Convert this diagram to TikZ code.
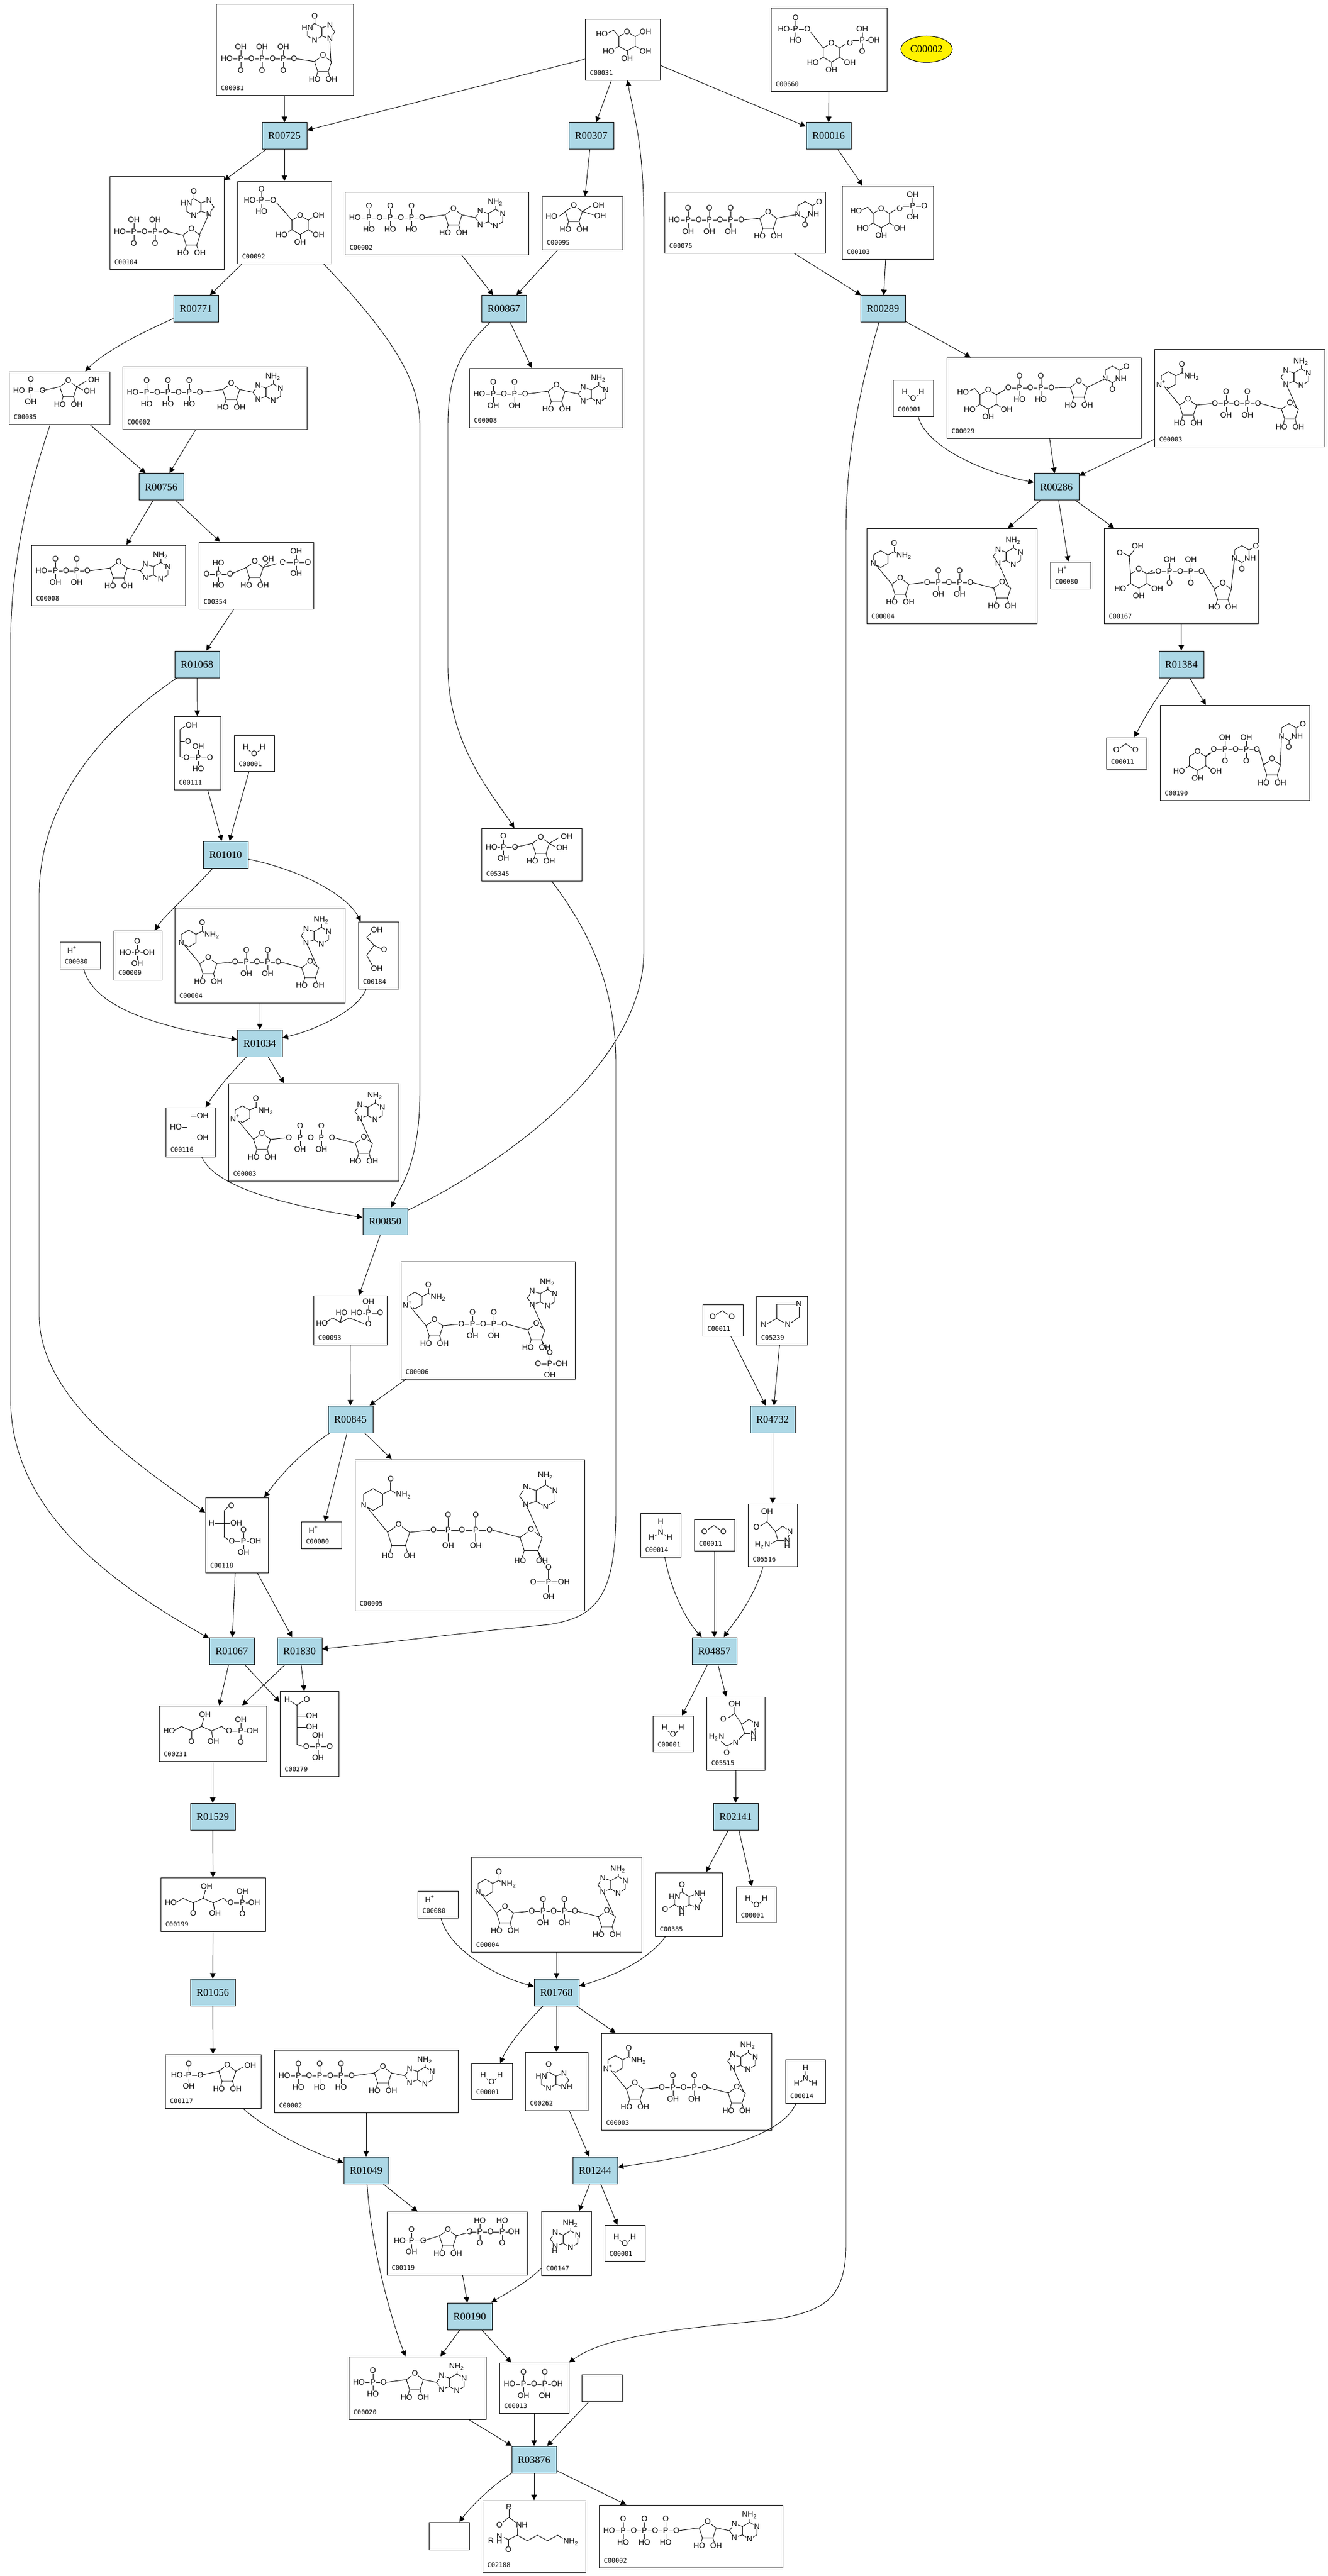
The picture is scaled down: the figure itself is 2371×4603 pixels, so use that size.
\documentclass[tikz,border=0pt]{standalone}
\usepackage{fontspec}
\setmainfont{Liberation Serif}
\newfontfamily\rxfont{Liberation Serif}
\newfontfamily\idfont{DejaVu Sans Mono}
\newfontfamily\atfont{Liberation Sans}
\usetikzlibrary{arrows.meta,calc,shapes.geometric}
\definecolor{rxblue}{HTML}{ADD8E6}
\newcounter{txc}
\tikzset{
  rxn/.style={draw, line width=0.3pt, fill=rxblue, minimum width=24pt, minimum height=14.4pt, inner sep=0pt, font=\rxfont\fontsize{5.5}{6}\selectfont},
  cpdbox/.style={draw, line width=0.28pt, inner sep=0pt},
  arr/.style={line width=0.28pt, -{Triangle[length=3pt,width=3pt]}},
  bd/.style={line width=0.28pt},
  atm/.style={font=\atfont\fontsize{4.2}{4.6}\selectfont, inner sep=0.3pt, fill=white},
  idl/.style={font=\idfont\fontsize{3.4}{4}\selectfont, inner sep=0pt, anchor=west},
}
\newcommand\Tx[3]{\stepcounter{txc}\node[atm] (tx\arabic{txc}) at (#1,#2) {#3};}
\newcommand\Bd[4]{\draw[bd] (#1,#2) -- (#3,#4);}
\newcommand\HX[3]{\draw[bd,shift={(#1,#2)}] (-90:#3)--(-30:#3)--(30:#3)--(90:#3)--(150:#3)--(210:#3)--cycle;}
\newcommand\PN[3]{\draw[bd,shift={(#1,#2)}] (-90:#3)--(-18:#3)--(54:#3)--(126:#3)--(198:#3)--cycle;}
\newcommand\RIB[2]{\PN{#1}{#2}{16}\Bd{#1-9.4}{#2+12.9}{#1-12}{#2+22}\Bd{#1+9.4}{#2+12.9}{#1+12}{#2+22}\Tx{#1}{#2-16}{O}\Tx{#1-15}{#2+27}{HO}\Tx{#1+15}{#2+27}{OH}}
\newcommand\PCH[5]{\draw[bd] ({#1+6},#2) -- ({#1+6+38*#3},#2);%
 \foreach \i in {1,...,#3}{\pgfmathsetmacro\px{#1+25+38*(\i-1)}\draw[bd] (\px,{#2-16}) -- (\px,{#2+16});\Tx{\px}{#2-21}{#4}\Tx{\px}{#2}{P}\Tx{\px}{#2+21}{#5}\Tx{\px+19}{#2}{O}}%
 \Tx{#1}{#2}{HO}}
\newcommand\PCO[5]{\draw[bd] (#1,#2) -- ({#1+39+38*(#3-1)},#2);%
 \foreach \i in {1,...,#3}{\pgfmathsetmacro\px{#1+20+38*(\i-1)}\draw[bd] (\px,{#2-16}) -- (\px,{#2+16});\Tx{\px}{#2-21}{#4}\Tx{\px}{#2}{P}\Tx{\px}{#2+21}{#5}\Tx{\px+19}{#2}{O}}%
 \Tx{#1}{#2}{O}}
\newcommand\PO[6]{\draw[bd] ({#1-17},#2) -- ({#1+17},#2) (#1,{#2-16}) -- (#1,{#2+16});\Tx{#1}{#2}{P}\Tx{#1}{#2-20}{#3}\Tx{#1}{#2+20}{#4}\Tx{#1-21}{#2}{#5}\Tx{#1+21}{#2}{#6}}
\newcommand\PUR[4]{\HX{#1}{#2}{15}\draw[bd,shift={(#1+23.3,#2)}] (144:12.8)--(216:12.8)--(288:12.8)--(0:12.8)--(72:12.8)--cycle;\Bd{#1}{#2-15}{#1}{#2-24}\Tx{#1}{#2-28}{#4}\Tx{#1-13}{#2-7.5}{#3}\Tx{#1}{#2+15}{N}\Tx{#1+27.3}{#2-12.2}{N}\Tx{#1+27.3}{#2+12.2}{N}}
\newcommand\PUL[4]{\HX{#1}{#2}{15}\draw[bd,shift={(#1-23.3,#2)}] (36:12.8)--(-36:12.8)--(-108:12.8)--(180:12.8)--(108:12.8)--cycle;\Bd{#1}{#2-15}{#1}{#2-24}\Tx{#1}{#2-28}{#4}\Tx{#1+13}{#2-7.5}{#3}\Tx{#1}{#2+15}{N}\Tx{#1-27.3}{#2-12.2}{N}\Tx{#1-27.3}{#2+12.2}{N}}
\newcommand\NIC[3]{\HX{#1}{#2}{15}\Tx{#1-13}{#2+7.5}{#3}\Bd{#1+13}{#2-7.5}{#1+24}{#2-13}\Bd{#1+24}{#2-13}{#1+24}{#2-24}\Tx{#1+24}{#2-28}{O}\Bd{#1+24}{#2-13}{#1+32}{#2-8}\Tx{#1+42}{#2-6}{NH\textsubscript{2}}}
\newcommand\URA[2]{\HX{#1}{#2}{15}\Tx{#1-13}{#2+7.5}{N}\Tx{#1+15}{#2+7.5}{NH}\Bd{#1}{#2+15}{#1}{#2+23}\Tx{#1}{#2+27}{O}\Bd{#1+13}{#2-7.5}{#1+21}{#2-12}\Tx{#1+25}{#2-14}{O}}
\newcommand\PYR[3]{\HX{#1}{#2}{17}\Tx{#1}{#2-17}{O}\Bd{#1+14.7}{#2-8.5}{#1+25}{#2-15}\Tx{#1+33}{#2-17}{#3}\Bd{#1+14.7}{#2+8.5}{#1+25}{#2+15}\Tx{#1+33}{#2+18}{OH}\Bd{#1-14.7}{#2+8.5}{#1-25}{#2+15}\Tx{#1-33}{#2+18}{HO}\Bd{#1}{#2+17}{#1}{#2+26}\Tx{#1}{#2+31}{OH}}
\newcommand\CHHO[3]{\Bd{#1-14.7}{#2-8.5}{#1-24}{#2-20}\Bd{#1-24}{#2-20}{#1-36}{#2-14}\Tx{#1-45}{#2-13}{#3}}
\newcommand\WAT{\Bd{23}{24}{32}{31}\Bd{40}{31}{49}{24}\Tx{21}{21}{H}\Tx{36}{33}{O}\Tx{51}{21}{H}}
\newcommand\COO{\Bd{23}{19}{35}{11}\Bd{35}{11}{47}{19}\Tx{18}{22}{O}\Tx{52}{22}{O}}
\newcommand\HPL{\Tx{22}{14}{H\textsuperscript{+}}}
\newcommand\NHH{\Bd{36}{19}{36}{29}\Bd{32}{37}{24}{41}\Bd{40}{37}{48}{41}\Tx{36}{15}{H}\Tx{36}{34}{N}\Tx{20}{43}{H}\Tx{52}{43}{H}}
\newcommand\NAD[1]{\NIC{25}{55}{#1}\Bd{17}{66}{45}{100}\RIB{60}{105}\Bd{75}{100}{104}{97}\PCO{108}{97}{2}{O}{OH}\Bd{189}{97}{227}{107}\RIB{242}{112}\PUL{262}{50}{N}{NH\textsubscript{2}}\Bd{237}{66}{254}{104}}
\newcommand\NUC[3]{\pgfmathsetmacro\nLo{62+38*(#1-1)}\pgfmathsetmacro\nRx{\nLo+56}\pgfmathsetmacro\nAx{\nRx+75}\PCH{18}{46}{#1}{#2}{#3}\Bd{\nLo+4}{46}{\nRx-15}{41}\RIB{\nRx}{46}\Bd{\nRx+15}{41}{\nAx-36}{46}\PUL{\nAx}{46}{N}{NH\textsubscript{2}}}
\newcommand\KPP{\Tx{18}{45}{HO}\Bd{26}{45}{40}{37}\Bd{40}{37}{58}{45}\Bd{58}{45}{76}{37}\Bd{76}{37}{94}{45}\Bd{94}{45}{112}{37}\Bd{112}{37}{122}{45}\Bd{58}{45}{58}{58}\Tx{58}{64}{O}\Bd{76}{37}{80}{22}\Tx{82}{16}{OH}\Bd{94}{45}{96}{58}\Tx{97}{64}{OH}\PO{146}{45}{OH}{O}{O}{OH}}
\newcommand\FSP{\PO{39}{34}{O}{OH}{HO}{O}\Bd{60}{34}{91}{27}\RIB{106}{32}\Bd{121}{27}{138}{17}\Tx{152}{15}{OH}\Bd{121}{27}{132}{33}\Tx{144}{35}{OH}}
\newcommand\Cbox[7]{%
  \node[cpdbox, minimum width={0.3pt*(#4-#2)}, minimum height={0.3pt*(#5-#3)}] (#1) at ({(#2+#4)/2},{(#3+#5)/2}) {};
  \begin{scope}[shift={(#2,#3)}]#7\node[idl] (#1id) at (8,{#5-#3-13}) {#6};\end{scope}}

\begin{document}
\begin{tikzpicture}[x=0.3pt,y=-0.3pt]
\fill[white] (0,0) rectangle (2371,4603);
\useasboundingbox (0,0) rectangle (2371,4603);

% ---------------- reactions
\node[rxn] (r00725) at (508,243) {R00725};
\node[rxn] (r00307) at (1056,243) {R00307};
\node[rxn] (r00016) at (1480,243) {R00016};
\node[rxn] (r00771) at (350,552) {R00771};
\node[rxn] (r00867) at (900,552) {R00867};
\node[rxn] (r00289) at (1577,552) {R00289};
\node[rxn] (r00756) at (288,870) {R00756};
\node[rxn] (r00286) at (1887,870) {R00286};
\node[rxn] (r01068) at (352,1187) {R01068};
\node[rxn] (r01384) at (2110,1187) {R01384};
\node[rxn] (r01010) at (403,1527) {R01010};
\node[rxn] (r01034) at (464,1864) {R01034};
\node[rxn] (r00850) at (688,2182) {R00850};
\node[rxn] (r00845) at (626,2536) {R00845};
\node[rxn] (r04732) at (1380,2536) {R04732};
\node[rxn] (r01067) at (414,2950) {R01067};
\node[rxn] (r01830) at (535,2950) {R01830};
\node[rxn] (r04857) at (1276,2950) {R04857};
\node[rxn] (r01529) at (380,3246) {R01529};
\node[rxn] (r02141) at (1314,3246) {R02141};
\node[rxn] (r01056) at (380,3560) {R01056};
\node[rxn] (r01768) at (994,3560) {R01768};
\node[rxn] (r01049) at (654,3878) {R01049};
\node[rxn] (r01244) at (1063,3878) {R01244};
\node[rxn] (r00190) at (839,4139) {R00190};
\node[rxn] (r03876) at (954,4395) {R03876};

\node[draw, line width=0.3pt, fill=yellow, ellipse, minimum width=27.6pt, minimum height=14.1pt, inner sep=0pt, font=\rxfont\fontsize{5.5}{6}\selectfont] (ell) at (1655,88) {C00002};

% ---------------- compounds
\Cbox{c81}{386}{7}{631}{170}{C00081}{\PCH{19}{98}{3}{OH}{O}\Bd{142}{98}{176}{103}\RIB{191}{108}\PUR{176}{50}{HN}{O}\Bd{203}{66}{205}{102}}
\Cbox{c31}{1045}{34}{1179}{143}{C00031}{\PYR{75}{40}{OH}\CHHO{75}{40}{HO}}
\Cbox{c660}{1377}{14}{1584}{163}{C00660}{\PYR{108}{80}{O}\Bd{93.3}{71.5}{80}{55}\Bd{80}{55}{68}{40}\PO{44}{38}{O}{HO}{HO}{O}\PO{163}{58}{OH}{O}{}{OH}}
\Cbox{c104}{196}{315}{400}{481}{C00104}{\PCH{18}{99}{2}{OH}{O}\Bd{104}{99}{130}{105}\RIB{146}{110}\PUR{150}{55}{HN}{O}\Bd{177}{68}{160}{105}}
\Cbox{c92}{424}{324}{592}{471}{C00092}{\PYR{112}{78}{OH}\Bd{97.3}{69.5}{85}{55}\Bd{85}{55}{68}{36}\PO{43}{34}{O}{HO}{HO}{O}}
\Cbox{atpA}{616}{343}{944}{455}{C00002}{\NUC{3}{O}{HO}}
\Cbox{c95}{968}{351}{1112}{446}{C00095}{\RIB{57}{32}\Bd{42}{27}{30}{36}\Tx{17}{36}{HO}\Bd{72}{27}{88}{17}\Tx{101}{16}{OH}\Bd{72}{27}{92}{33}\Tx{104}{35}{OH}}
\Cbox{c75}{1187}{343}{1474}{452}{C00075}{\PCH{17}{50}{3}{O}{OH}\Bd{141}{50}{170}{47}\RIB{185}{52}\URA{251}{32}\Bd{238}{40}{200}{47}}
\Cbox{c103}{1504}{332}{1667}{463}{C00103}{\PYR{70}{58}{O}\CHHO{70}{58}{HO}\PO{126}{36}{OH}{OH}{}{O}}
\Cbox{c85}{16}{664}{196}{758}{C00085}{\FSP}
\Cbox{atpB}{219}{655}{548}{767}{C00002}{\NUC{3}{O}{HO}}
\Cbox{adpA}{838}{658}{1112}{764}{C00008}{\NUC{2}{O}{OH}}
\Cbox{wA}{1595}{679}{1667}{744}{C00001}{\WAT}
\Cbox{c29}{1691}{639}{2038}{783}{C00029}{\PYR{74}{75}{}\CHHO{74}{75}{HO}\Bd{88.7}{66.5}{106}{56}\PCO{110}{54}{2}{O}{HO}\Bd{193}{54}{221}{53}\RIB{236}{58}\URA{296}{30}\Bd{283}{38}{251}{53}}
\Cbox{nadA}{2062}{624}{2366}{798}{C00003}{\NAD{N\textsuperscript{+}}}
\Cbox{adpB}{56}{974}{331}{1082}{C00008}{\NUC{2}{O}{OH}}
\Cbox{c354}{355}{969}{560}{1088}{C00354}{\PO{35}{57}{HO}{HO}{O}{O}\Bd{57}{57}{85}{45}\RIB{100}{50}\Bd{115}{45}{124}{36}\Tx{124}{30}{OH}\Bd{115}{45}{140}{38}\Tx{150}{36}{O}\PO{174}{36}{OH}{OH}{}{O}}
\Cbox{nadhA}{1548}{944}{1852}{1114}{C00004}{\NAD{N}}
\Cbox{hA}{1876}{1004}{1948}{1052}{C00080}{\HPL}
\Cbox{c167}{1972}{944}{2247}{1114}{C00167}{\PYR{62}{90}{}\Bd{76.7}{81.5}{93}{79}\Bd{47.3}{81.5}{45}{50}\Bd{45}{50}{56}{36}\Tx{60}{32}{OH}\Bd{45}{50}{34}{44}\Tx{28}{44}{O}\PCO{97}{77}{2}{OH}{O}\Bd{178}{77}{197}{108}\RIB{212}{114}\URA{246}{46}\Bd{233}{54}{227}{109}}
\Cbox{co2A}{1976}{1318}{2048}{1374}{C00011}{\COO}
\Cbox{c190}{2072}{1260}{2339}{1430}{C00190}{\PYR{67}{100}{}\Bd{81.7}{91.5}{92}{83}\PCO{96}{79}{2}{OH}{O}\Bd{177}{79}{185}{107}\RIB{200}{112}\URA{230}{48}\Bd{217}{55}{215}{107}}
\Cbox{c111}{311}{1280}{394}{1411}{C00111}{\Bd{22}{16}{10}{24}\Bd{10}{24}{10}{72}\Bd{10}{72}{21}{74}\Bd{10}{45}{20}{45}\Tx{31}{16}{OH}\Tx{25}{45}{O}\PO{43}{74}{OH}{HO}{O}{O}}
\Cbox{wB}{418}{1314}{490}{1378}{C00001}{\WAT}
\Cbox{c5345}{860}{1480}{1039}{1574}{C05345}{\FSP}
\Cbox{hB}{107}{1683}{179}{1731}{C00080}{\HPL}
\Cbox{c9}{203}{1663}{289}{1751}{C00009}{\PO{42}{39}{O}{OH}{HO}{OH}}
\Cbox{nadhB}{312}{1622}{616}{1792}{C00004}{\NAD{N}}
\Cbox{c184}{640}{1647}{712}{1767}{C00184}{\Bd{25}{18}{15}{28}\Bd{15}{28}{28}{42}\Bd{28}{42}{15}{60}\Bd{15}{60}{25}{78}\Bd{28}{42}{40}{48}\Tx{33}{15}{OH}\Tx{46}{50}{O}\Tx{33}{84}{OH}}
\Cbox{c116}{296}{1979}{384}{2067}{C00116}{\Bd{45}{15}{56}{15}\Tx{66}{15}{OH}\Bd{27}{35}{38}{35}\Tx{18}{35}{HO}\Bd{45}{54}{56}{54}\Tx{66}{54}{OH}}
\Cbox{nadB}{408}{1936}{712}{2110}{C00003}{\NAD{N\textsuperscript{+}}}
\Cbox{c93}{560}{2315}{691}{2403}{C00093}{\Tx{15}{50}{HO}\Bd{22}{48}{34}{40}\Bd{34}{40}{48}{48}\Bd{48}{48}{50}{37}\Tx{50}{31}{HO}\Bd{48}{48}{64}{40}\Bd{64}{40}{90}{50}\PO{98}{31}{OH}{O}{HO}{O}}
\Cbox{nadpB}{716}{2254}{1027}{2464}{C00006}{\begin{scope}[shift={(0,15)}]\NAD{N\textsuperscript{+}}\Bd{251}{125}{262}{146}\PO{266}{168}{O}{OH}{O}{OH}\end{scope}}
\Cbox{c118}{367}{2676}{479}{2810}{C00118}{\Bd{33}{24}{40}{17}\Tx{46}{15}{O}\Bd{33}{24}{33}{70}\Bd{17}{46}{33}{46}\Tx{11}{46}{H}\Bd{33}{46}{45}{46}\Tx{55}{46}{OH}\Bd{33}{70}{45}{78}\PO{68}{78}{O}{OH}{O}{OH}}
\Cbox{hC}{538}{2719}{610}{2767}{C00080}{\HPL}
\Cbox{nadph}{634}{2608}{1044}{2878}{C00005}{\begin{scope}[scale=1.3]\NAD{N}\Bd{251}{125}{262}{146}\PO{266}{168}{O}{OH}{O}{OH}\end{scope}}
\Cbox{c231}{284}{3048}{476}{3147}{C00231}{\KPP}
\Cbox{c279}{500}{3022}{605}{3174}{C00279}{\Tx{13}{15}{H}\Bd{18}{17}{30}{25}\Bd{30}{25}{42}{17}\Tx{48}{15}{O}\Bd{30}{25}{30}{95}\Bd{30}{44}{46}{44}\Tx{57}{44}{OH}\Bd{30}{64}{46}{64}\Tx{57}{64}{OH}\Bd{30}{95}{42}{99}\PO{68}{99}{OH}{OH}{O}{O}}
\Cbox{c199}{287}{3355}{474}{3451}{C00199}{\KPP}
\Cbox{c117}{295}{3671}{466}{3767}{C00117}{\PO{42}{37}{O}{OH}{HO}{O}\Bd{63}{37}{96}{30}\RIB{111}{35}\Bd{126}{30}{140}{22}\Tx{152}{20}{OH}}
\Cbox{atpC}{490}{3663}{818}{3775}{C00002}{\NUC{3}{O}{HO}}
\Cbox{c119}{691}{3952}{942}{4065}{C00119}{\PO{44}{52}{O}{OH}{HO}{O}\Bd{65}{52}{94}{43}\RIB{109}{48}\Bd{124}{43}{142}{38}\Tx{148}{36}{O}\PO{166}{36}{HO}{O}{}{}\Tx{185}{36}{O}\PO{206}{36}{HO}{O}{}{OH}}
\Cbox{c147}{967}{3951}{1056}{4066}{C00147}{\PUL{52}{50}{N}{NH\textsubscript{2}}\Tx{24}{71}{H}}
\Cbox{wG}{1080}{3976}{1152}{4040}{C00001}{\WAT}
\Cbox{amp}{623}{4211}{868}{4323}{C00020}{\NUC{1}{O}{HO}}
\Cbox{ppi}{892}{4222}{1016}{4312}{C00013}{\PCH{18}{38}{2}{O}{OH}\Tx{103}{38}{OH}}
\Cbox{eA}{1039}{4243}{1111}{4291}{}{}
\Cbox{eB}{766}{4507}{838}{4556}{}{}
\Cbox{c2188}{862}{4468}{1046}{4596}{C02188}{\Tx{47}{12}{R}\Bd{47}{16}{47}{30}\Bd{47}{30}{36}{39}\Tx{30}{44}{O}\Bd{47}{30}{60}{40}\Tx{70}{44}{NH}\Bd{62}{50}{62}{62}\Bd{62}{62}{46}{70}\Bd{46}{70}{38}{66}\Tx{30}{64}{N}\Tx{30}{73}{H}\Tx{15}{72}{R}\Bd{46}{70}{46}{82}\Tx{46}{88}{O}\Bd{62}{62}{80}{72}\Bd{80}{72}{98}{62}\Bd{98}{62}{116}{72}\Bd{116}{72}{134}{62}\Bd{134}{62}{146}{70}\Tx{158}{74}{NH\textsubscript{2}}}
\Cbox{atpD}{1070}{4476}{1398}{4588}{C00002}{\NUC{3}{O}{HO}}
\Cbox{co2B}{1255}{2331}{1327}{2387}{C00011}{\COO}
\Cbox{c5239}{1351}{2316}{1442}{2403}{C05239}{\Bd{36}{14}{70}{14}\Bd{36}{14}{36}{40}\Bd{36}{40}{52}{49}\Bd{60}{49}{76}{38}\Bd{76}{38}{76}{18}\Bd{36}{40}{18}{50}\Tx{76}{14}{N}\Tx{56}{51}{N}\Tx{13}{51}{N}}
\Cbox{c5516}{1336}{2687}{1424}{2799}{C05516}{\Tx{34}{14}{OH}\Bd{34}{19}{34}{32}\Bd{34}{32}{22}{40}\Tx{15}{42}{O}\PN{62}{54}{14}\Bd{34}{32}{49}{50}\Tx{75}{50}{N}\Tx{70}{66}{N}\Tx{70}{75}{H}\Bd{53}{65}{40}{72}\Tx{26}{74}{H\textsubscript{2}N}}
\Cbox{nh3A}{1144}{2704}{1216}{2782}{C00014}{\NHH}
\Cbox{co2C}{1240}{2715}{1312}{2771}{C00011}{\COO}
\Cbox{wC}{1166}{3066}{1238}{3130}{C00001}{\WAT}
\Cbox{c5515}{1262}{3032}{1366}{3163}{C05515}{\Tx{50}{13}{OH}\Bd{50}{18}{50}{30}\Bd{50}{30}{38}{38}\Tx{30}{40}{O}\PN{76}{54}{14}\Bd{50}{30}{63}{49}\Tx{89}{50}{N}\Tx{84}{66}{N}\Tx{84}{75}{H}\Bd{68}{65}{56}{78}\Tx{52}{82}{N}\Bd{47}{82}{36}{88}\Bd{36}{88}{36}{96}\Tx{36}{100}{O}\Bd{36}{88}{26}{80}\Tx{18}{72}{H\textsubscript{2}N}}
\Cbox{hD}{746}{3379}{818}{3427}{C00080}{\HPL}
\Cbox{nadhC}{842}{3318}{1146}{3488}{C00004}{\NAD{N}}
\Cbox{c385}{1170}{3346}{1290}{3460}{C00385}{\PUR{48}{50}{HN}{O}\Bd{35}{57}{26}{63}\Tx{18}{66}{O}\Tx{48}{74}{H}\Tx{80}{38}{NH}}
\Cbox{wD}{1315}{3371}{1386}{3435}{C00001}{\WAT}
\Cbox{wE}{842}{3687}{915}{3751}{C00001}{\WAT}
\Cbox{c262}{938}{3667}{1050}{3771}{C00262}{\PUR{42}{50}{HN}{O}\Tx{74}{62}{NH}}
\Cbox{nadC}{1074}{3633}{1378}{3806}{C00003}{\NAD{N\textsuperscript{+}}}
\Cbox{nh3B}{1403}{3680}{1474}{3758}{C00014}{\NHH}

% ---------------- connectors
\draw[arr] (c81) -- (r00725);
\draw[arr] (c31) -- (r00725);
\draw[arr] (c31) -- (r00307);
\draw[arr] (c31) -- (r00016);
\draw[arr] (c660) -- (r00016);
\draw[arr] (r00725) -- (c104);
\draw[arr] (r00725) -- (c92);
\draw[arr] (r00307) -- (c95);
\draw[arr] (r00016) -- (c103);
\draw[arr] (c92) -- (r00771);
\draw[arr] (c92) .. controls (700,600) and (750,680) .. (750,760) -- (750,1950) .. controls (750,2080) and (715,2120) .. (r00850);
\draw[arr] (atpA) -- (r00867);
\draw[arr] (c95) -- (r00867);
\draw[arr] (r00867) -- (adpA);
\draw[arr] (r00867) .. controls (830,620) and (800,660) .. (800,760) -- (800,1190) .. controls (800,1330) and (880,1420) .. (c5345);
\draw[arr] (c75) -- (r00289);
\draw[arr] (c103) -- (r00289);
\draw[arr] (r00289) -- (c29);
\draw[arr] (r00289) .. controls (1540,680) and (1511,800) .. (1511,950) -- (1511,4010) .. controls (1511,4110) and (1470,4130) .. (1380,4145) .. controls (1200,4162) and (1080,4175) .. (ppi);
\draw[arr] (r00771) .. controls (250,595) and (185,630) .. (c85);
\draw[arr] (c85) -- (r00756);
\draw[arr] (c85) .. controls (55,860) and (19,1000) .. (19,1150) -- (19,2500) .. controls (19,2700) and (200,2830) .. (r01067);
\draw[arr] (atpB) -- (r00756);
\draw[arr] (r00756) -- (adpB);
\draw[arr] (r00756) -- (c354);
\draw[arr] (c354) -- (r01068);
\draw[arr] (wA) .. controls (1655,800) and (1760,845) .. (r00286);
\draw[arr] (c29) -- (r00286);
\draw[arr] (nadA) -- (r00286);
\draw[arr] (r00286) -- (nadhA);
\draw[arr] (r00286) -- (hA);
\draw[arr] (r00286) -- (c167);
\draw[arr] (c167) -- (r01384);
\draw[arr] (r01384) .. controls (2070,1240) and (2045,1280) .. (co2A);
\draw[arr] (r01384) -- (c190);
\draw[arr] (r01068) -- (c111);
\draw[arr] (r01068) .. controls (200,1290) and (70,1420) .. (70,1600) -- (70,2350) .. controls (70,2500) and (250,2620) .. (c118);
\draw[arr] (c111) -- (r01010);
\draw[arr] (wB) -- (r01010);
\draw[arr] (r01010) .. controls (335,1600) and (295,1635) .. (c9);
\draw[arr] (r01010) .. controls (540,1555) and (620,1600) .. (c184);
\draw[arr] (hB) .. controls (165,1790) and (250,1830) .. (r01034);
\draw[arr] (nadhB) -- (r01034);
\draw[arr] (c184) .. controls (640,1805) and (565,1840) .. (r01034);
\draw[arr] (r01034) .. controls (410,1920) and (385,1950) .. (c116);
\draw[arr] (r01034) -- (nadB);
\draw[arr] (c116) .. controls (380,2110) and (460,2145) .. (r00850);
\draw[arr] (c5345) .. controls (1050,1660) and (1100,1760) .. (1100,1900) -- (1100,2700) .. controls (1100,2860) and (1060,2890) .. (980,2903) .. controls (800,2920) and (700,2935) .. (r01830);
\draw[arr] (r00850) .. controls (900,2080) and (1150,1900) .. (1150,1700) -- (1150,400) .. controls (1150,250) and (1130,200) .. (c31);
\draw[arr] (r00850) -- (c93);
\draw[arr] (c93) -- (r00845);
\draw[arr] (nadpB) -- (r00845);
\draw[arr] (r00845) .. controls (545,2590) and (505,2630) .. (c118);
\draw[arr] (r00845) -- (hC);
\draw[arr] (r00845) -- (nadph);
\draw[arr] (c118) -- (r01067);
\draw[arr] (c118) -- (r01830);
\draw[arr] (r01067) -- (c231);
\draw[arr] (r01067) -- (c279);
\draw[arr] (r01830) -- (c231);
\draw[arr] (r01830) -- (c279);
\draw[arr] (c231) -- (r01529);
\draw[arr] (r01529) -- (c199);
\draw[arr] (c199) -- (r01056);
\draw[arr] (r01056) -- (c117);
\draw[arr] (c117) .. controls (470,3800) and (540,3840) .. (r01049);
\draw[arr] (atpC) -- (r01049);
\draw[arr] (r01049) -- (c119);
\draw[arr] (r01049) .. controls (662,4000) and (690,4120) .. (amp);
\draw[arr] (c119) -- (r00190);
\draw[arr] (c147) .. controls (940,4080) and (900,4100) .. (r00190);
\draw[arr] (r00190) -- (amp);
\draw[arr] (r00190) -- (ppi);
\draw[arr] (amp) -- (r03876);
\draw[arr] (ppi) -- (r03876);
\draw[arr] (eA) -- (r03876);
\draw[arr] (r03876) .. controls (880,4440) and (840,4480) .. (eB);
\draw[arr] (r03876) -- (c2188);
\draw[arr] (r03876) -- (atpD);
\draw[arr] (co2B) -- (r04732);
\draw[arr] (c5239) -- (r04732);
\draw[arr] (r04732) -- (c5516);
\draw[arr] (nh3A) .. controls (1200,2850) and (1230,2900) .. (r04857);
\draw[arr] (co2C) -- (r04857);
\draw[arr] (c5516) .. controls (1345,2860) and (1310,2900) .. (r04857);
\draw[arr] (r04857) -- (wC);
\draw[arr] (r04857) -- (c5515);
\draw[arr] (c5515) -- (r02141);
\draw[arr] (r02141) -- (c385);
\draw[arr] (r02141) -- (wD);
\draw[arr] (hD) .. controls (800,3480) and (880,3530) .. (r01768);
\draw[arr] (nadhC) -- (r01768);
\draw[arr] (c385) .. controls (1160,3500) and (1100,3530) .. (r01768);
\draw[arr] (r01768) .. controls (945,3610) and (910,3650) .. (wE);
\draw[arr] (r01768) -- (c262);
\draw[arr] (r01768) -- (nadC);
\draw[arr] (c262) -- (r01244);
\draw[arr] (nh3B) .. controls (1400,3810) and (1300,3845) .. (r01244);
\draw[arr] (r01244) -- (c147);
\draw[arr] (r01244) -- (wG);
\end{tikzpicture}
\end{document}
